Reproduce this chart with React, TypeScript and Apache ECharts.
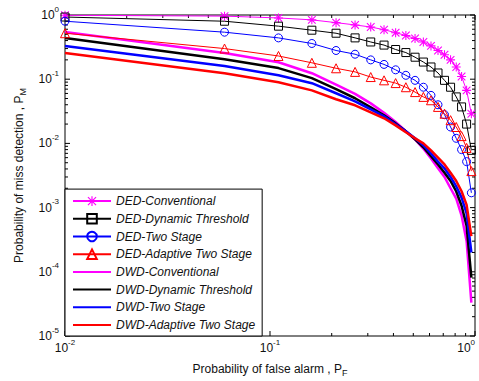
import React, { useEffect, useRef } from 'react';
import * as echarts from 'echarts';

// P_F sample points
const pfValues = [0.01, 0.06, 0.11, 0.16, 0.21, 0.26, 0.31, 0.36, 0.41, 0.46, 0.51, 0.56, 0.61, 0.66, 0.71, 0.76, 0.81, 0.86, 0.91, 0.96];

// P_M values per series
const dedConventional = [0.99, 0.96, 0.9, 0.84, 0.76, 0.7, 0.65, 0.59, 0.53, 0.48, 0.43, 0.38, 0.33, 0.28, 0.24, 0.2, 0.155, 0.11, 0.067, 0.029];
const dedDynamicThreshold = [0.93, 0.8, 0.67, 0.58, 0.52, 0.44, 0.38, 0.34, 0.29, 0.26, 0.22, 0.185, 0.155, 0.125, 0.096, 0.075, 0.053, 0.037, 0.02, 0.0078];
const dedTwoStage = [0.8, 0.54, 0.44, 0.36, 0.28, 0.245, 0.2, 0.17, 0.14, 0.115, 0.096, 0.075, 0.056, 0.04, 0.028, 0.018, 0.012, 0.008, 0.0052, 0.0017];
const dedAdaptiveTwoStage = [0.52, 0.3, 0.23, 0.18, 0.148, 0.13, 0.108, 0.096, 0.087, 0.075, 0.063, 0.053, 0.047, 0.037, 0.029, 0.023, 0.018, 0.013, 0.0085, 0.0037];
const dwdConventional = [0.543, 0.255, 0.184, 0.124, 0.082, 0.059, 0.042, 0.03, 0.0215, 0.0155, 0.0115, 0.0083, 0.0058, 0.0041, 0.003, 0.002, 0.00138, 0.00075, 0.0003, 0.000033];
const dwdDynamicThreshold = [0.437, 0.205, 0.149, 0.104, 0.07, 0.0505, 0.0365, 0.0273, 0.0205, 0.0154, 0.01155, 0.0087, 0.0063, 0.0047, 0.0035, 0.0026, 0.00178, 0.00107, 0.00052, 0.000081];
const dwdTwoStage = [0.328, 0.16, 0.115, 0.0866, 0.0604, 0.0453, 0.034, 0.0264, 0.0198, 0.0154, 0.012, 0.0093, 0.007, 0.0052, 0.0041, 0.003, 0.00214, 0.00143, 0.00081, 0.0002];
const dwdAdaptiveTwoStage = [0.255, 0.124, 0.0898, 0.067, 0.0487, 0.0392, 0.0305, 0.0246, 0.0191, 0.0149, 0.012, 0.01, 0.0078, 0.006, 0.0047, 0.0035, 0.0026, 0.0018, 0.0011, 0.00036];

const seriesNames = [
  'DED-Conventional',
  'DED-Dynamic Threshold',
  'DED-Two Stage',
  'DED-Adaptive Two Stage',
  'DWD-Conventional',
  'DWD-Dynamic Threshold',
  'DWD-Two Stage',
  'DWD-Adaptive Two Stage',
];
const seriesValues = [
  dedConventional, dedDynamicThreshold, dedTwoStage, dedAdaptiveTwoStage,
  dwdConventional, dwdDynamicThreshold, dwdTwoStage, dwdAdaptiveTwoStage,
];

// axis ranges (decades)
const xDecades = [-2, -1, 0];
const yDecades = [-5, -4, -3, -2, -1, 0];

const FONT = 'Liberation Sans, Arial, sans-serif';
const TXT = '#111';

const ASTERISK = 'path://M4.4 0H5.6V10H4.4Z M0 4.4H10V5.6H0Z M1.2 0.35L9.65 8.8L8.8 9.65L0.35 1.2Z M8.8 0.35L9.65 1.2L1.2 9.65L0.35 8.8Z';

function buildTicks() {
  const ticks: number[][] = [];
  for (let i = 0; i < xDecades.length; i++) {
    const base = Math.pow(10, xDecades[i]);
    ticks.push([base, 1e-5, 0, 1]);
    if (i < xDecades.length - 1) {
      for (let m = 2; m <= 9; m++) ticks.push([m * base, 1e-5, 0, 0]);
    }
  }
  for (let i = 0; i < yDecades.length; i++) {
    const base = Math.pow(10, yDecades[i]);
    ticks.push([0.01, base, 1, 1]);
    if (i < yDecades.length - 1) {
      for (let m = 2; m <= 9; m++) ticks.push([0.01, m * base, 1, 0]);
    }
  }
  return ticks;
}

export default function App() {
  const ref = useRef<HTMLDivElement>(null);
  useEffect(() => {
    document.body.style.margin = '0';
    if (!ref.current) return;
    const chart = echarts.init(ref.current, undefined, { renderer: 'svg' });

    const expLabel = (v: number) => {
      const e = Math.round(Math.log10(v));
      return '{b|10}{s|' + e + '}';
    };
    const labelRich = {
      b: { fontSize: 12, fontFamily: FONT, color: TXT },
      s: { fontSize: 8, fontFamily: FONT, color: TXT, padding: [0, 0, 12, 0] },
    };

    const styles = [
      { color: '#ff00ff', symbol: ASTERISK, size: 9, fill: '#ff00ff', width: 1 },
      { color: '#000000', symbol: 'rect', size: 8, fill: 'rgba(0,0,0,0)', width: 1 },
      { color: '#0000ff', symbol: 'circle', size: 8, fill: 'rgba(0,0,0,0)', width: 1 },
      { color: '#ff0000', symbol: 'triangle', size: 9, fill: 'rgba(0,0,0,0)', width: 1 },
      { color: '#ff00ff', symbol: 'none', size: 0, fill: '#ff00ff', width: 2.5 },
      { color: '#000000', symbol: 'none', size: 0, fill: '#000000', width: 2.5 },
      { color: '#0000ff', symbol: 'none', size: 0, fill: '#0000ff', width: 2.5 },
      { color: '#ff0000', symbol: 'none', size: 0, fill: '#ff0000', width: 2.5 },
    ];

    const lineSeries = seriesNames.map((name, k) => {
      const st = styles[k];
      return {
        name,
        type: 'line',
        data: pfValues.map((x, i) => [x, seriesValues[k][i]]),
        symbol: st.symbol,
        symbolSize: st.size,
        showSymbol: st.symbol !== 'none',
        color: st.color,
        lineStyle: { color: st.color, width: st.width },
        itemStyle: {
          color: st.fill,
          borderColor: st.color,
          borderWidth: st.symbol === ASTERISK ? 0 : 1,
        },
        emphasis: { disabled: true },
        z: k < 4 ? 3 : 2,
        clip: true,
      };
    });

    const tickSeries = {
      type: 'custom',
      data: buildTicks(),
      encode: { x: 0, y: 1 },
      clip: false,
      silent: true,
      z: 3,
      renderItem: (params: any, api: any) => {
        const v0 = api.value(0);
        const v1 = api.value(1);
        const kind = api.value(2);
        const major = api.value(3);
        const len = major ? 5 : 3;
        const st = { stroke: '#000', lineWidth: 1 };
        if (kind === 0) {
          const pb = api.coord([v0, 1e-5]);
          const pt = api.coord([v0, 1]);
          return {
            type: 'group',
            children: [
              { type: 'line', shape: { x1: pb[0], y1: pb[1], x2: pb[0], y2: pb[1] - len }, style: st },
              { type: 'line', shape: { x1: pt[0], y1: pt[1], x2: pt[0], y2: pt[1] + len }, style: st },
            ],
          };
        }
        const pl = api.coord([0.01, v1]);
        const pr = api.coord([1, v1]);
        return {
          type: 'group',
          children: [
            { type: 'line', shape: { x1: pl[0], y1: pl[1], x2: pl[0] + len, y2: pl[1] }, style: st },
            { type: 'line', shape: { x1: pr[0], y1: pr[1], x2: pr[0] - len, y2: pr[1] }, style: st },
          ],
        };
      },
    };

    const legendData = seriesNames.map((name, k) =>
      k < 4 ? { name } : { name, itemStyle: { opacity: 0 } }
    );

    chart.setOption({
      animation: false,
      backgroundColor: '#ffffff',
      grid: {
        left: 65,
        right: 4,
        top: 15,
        bottom: 45,
        show: true,
        borderColor: '#000',
        borderWidth: 1,
        backgroundColor: '#fff',
        containLabel: false,
        outerBoundsMode: 'none',
      },
      xAxis: {
        type: 'log',
        logBase: 10,
        min: 0.01,
        max: 1,
        axisLine: { show: false },
        axisTick: { show: false },
        splitLine: { show: false },
        axisLabel: {
          margin: 2,
          formatter: expLabel,
          rich: labelRich,
          showMinLabel: true,
          showMaxLabel: true,
          hideOverlap: false,
          alignMaxLabel: 'right',
        },
        name: '{t|Probability of false alarm , P}{s|F}',
        nameLocation: 'middle',
        nameGap: 25,
        nameTextStyle: {
          rich: {
            t: { fontSize: 12, fontFamily: FONT, color: TXT },
            s: { fontSize: 9, fontFamily: FONT, color: TXT, padding: [7, 0, 0, 0] },
          },
        },
      },
      yAxis: {
        type: 'log',
        logBase: 10,
        min: 1e-5,
        max: 1,
        axisLine: { show: false },
        axisTick: { show: false },
        splitLine: { show: false },
        axisLabel: {
          margin: 6,
          formatter: expLabel,
          rich: labelRich,
          showMinLabel: true,
          showMaxLabel: true,
        },
        name: '{t|Probability of miss detection , P}{s|M}',
        nameLocation: 'middle',
        nameGap: 38,
        nameRotate: 90,
        nameTextStyle: {
          rich: {
            t: { fontSize: 12, fontFamily: FONT, color: TXT },
            s: { fontSize: 9, fontFamily: FONT, color: TXT, padding: [7, 0, 0, 0] },
          },
        },
      },
      legend: {
        orient: 'vertical',
        left: 65,
        bottom: 45,
        z: 10,
        padding: [5, 7, 4, 7],
        itemWidth: 38,
        itemHeight: 12,
        itemGap: 3.7,
        backgroundColor: '#fff',
        borderColor: '#000',
        borderWidth: 1,
        borderRadius: 0,
        selectedMode: false,
        data: legendData,
        textStyle: {
          fontSize: 12,
          fontStyle: 'italic',
          fontFamily: FONT,
          color: TXT,
          lineHeight: 14,
        },
      },
      series: [...lineSeries, tickSeries],
    } as any);

    return () => {
      chart.dispose();
    };
  }, []);

  return (
    <div
      ref={ref}
      style={{ position: 'absolute', left: 0, top: 0, width: 479, height: 381 }}
    />
  );
}
